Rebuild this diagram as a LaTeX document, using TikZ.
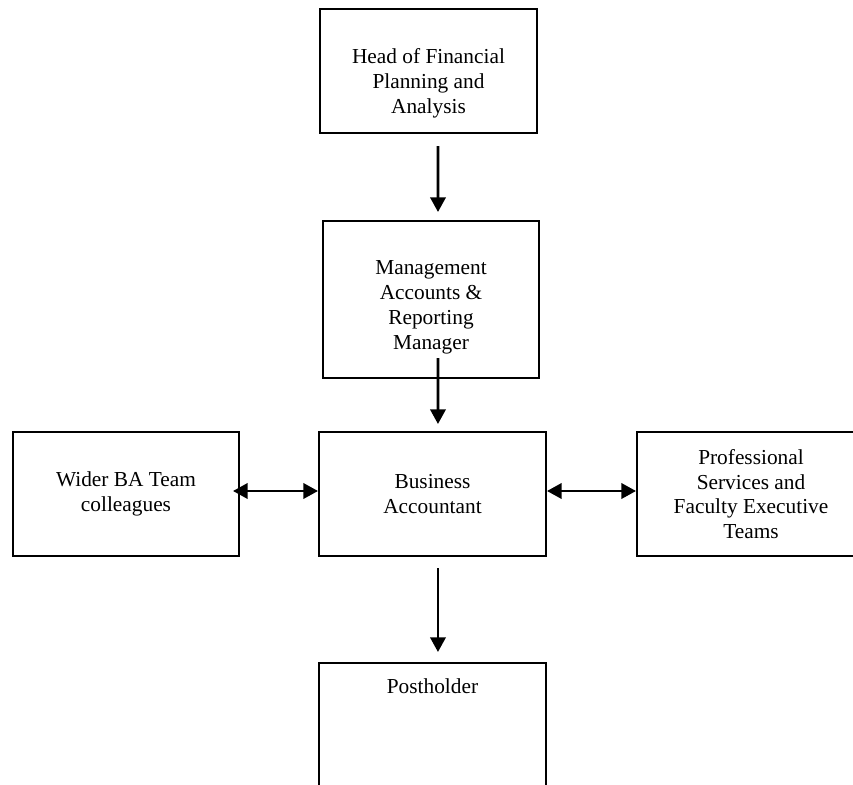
\documentclass[tikz,border=0pt]{standalone}
\usepackage{fontspec}
\setmainfont{Liberation Serif}
\usetikzlibrary{arrows.meta}
\begin{document}
\begin{tikzpicture}[x=0.75pt,y=-0.75pt,
  txt/.style={align=center,inner sep=0pt,font=\fontsize{16pt}{18.6pt}\selectfont},
  box/.style={draw=black,line width=1.5pt,inner sep=0pt,txt},
  arr/.style={line width=2pt,-{Triangle[width=11.5pt,length=11pt]}},
  darr/.style={line width=2pt,{Triangle[width=11.5pt,length=11pt]}-{Triangle[width=11.5pt,length=11pt]}}]
\useasboundingbox (0,0) rectangle (853,785);
\clip (0,0) rectangle (853,785);
\node[box,minimum width=162.75pt,minimum height=93pt,
  label={[txt,name=headtxt,anchor=center,yshift=-9pt]center:Head of Financial\\Planning and\\Analysis}] (head) at (428.5,71) {};
\node[box,minimum width=162pt,minimum height=117.75pt,
  label={[txt,name=mgmttxt,anchor=center,yshift=-6pt]center:Management\\Accounts \&\\Reporting\\Manager}] (mgmt) at (431,299.5) {};
\node[box,minimum width=170.25pt,minimum height=93pt] (ba) at (432.5,494) {Business\\Accountant};
\node[box,minimum width=169.5pt,minimum height=93pt] (wider) at (126,494) {Wider BA Team\\colleagues};
\node[box,minimum width=171pt,minimum height=93pt] (prof) at (751,494) {Professional\\Services and\\Faculty Executive\\Teams};
\node[box,minimum width=170.25pt,minimum height=125.25pt,
  label={[txt,name=posttxt,anchor=center,yshift=-18pt]north:Postholder}] (post) at (432.5,746.5) {};
\draw[arr] ([xshift=7.1pt,yshift=-9pt]head.south) -- ([xshift=5.25pt,yshift=6pt]mgmt.north);
\draw[arr] ([xshift=5.25pt,yshift=15.75pt]mgmt.south) -- ([xshift=4.1pt,yshift=5.25pt]ba.north);
\draw[arr] ([xshift=4.1pt,yshift=-8.25pt]ba.south) -- ([xshift=4.1pt,yshift=7.5pt]post.north);
\draw[darr] ([xshift=-5.25pt,yshift=2.25pt]wider.east) -- ([yshift=2.25pt]ba.west);
\draw[darr] ([yshift=2.25pt]ba.east) -- ([yshift=2.25pt]prof.west);
\end{tikzpicture}
\end{document}
